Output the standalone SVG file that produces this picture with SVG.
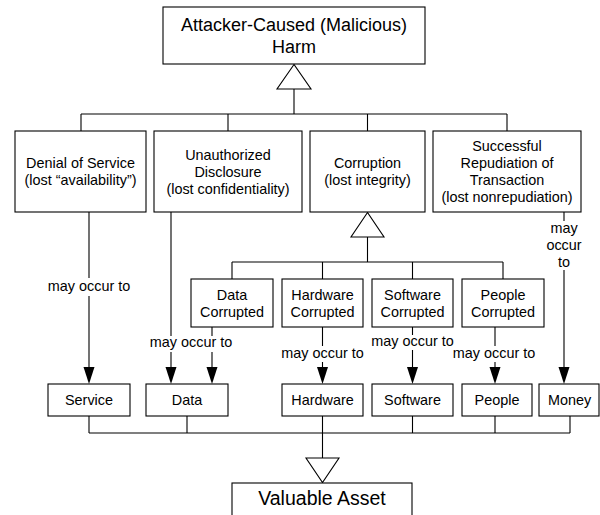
<svg xmlns="http://www.w3.org/2000/svg" width="600" height="515" viewBox="0 0 600 515">
<defs>
<style>
.box{fill:#fff;stroke:#000;stroke-width:1.1}
.ln{fill:none;stroke:#000;stroke-width:1.1}
.tri{fill:#fff;stroke:#000;stroke-width:1.1}
.ah{fill:#000;stroke:none}
.bg{fill:#fff;stroke:none}
text{font-family:"Liberation Sans",Arial,sans-serif;fill:#000;text-anchor:middle}
.t{font-size:14.4px}
.big{font-size:18px}
.huge{font-size:19.5px}
</style>
</defs>
<rect width="600" height="515" fill="#fff"/>
<g id="connectors">
<!-- generalization to top -->
<path class="ln" d="M294 89V114M81 114H507M81 114V131M228 114V131M367.5 114V131M507 114V131"/>
<polygon class="tri" points="294,64.5 277,89 311,89"/>
<!-- generalization to Corruption -->
<path class="ln" d="M367.5 237V262M232 262H503M232 262V279M322.5 262V279M412.5 262V279M503 262V279"/>
<polygon class="tri" points="367.5,212.5 351,237 384,237"/>
<!-- may occur to arrows -->
<path class="ln" d="M89 212V370M171 212V370M212 327V370M322.5 327V370M412.5 327V370M495 327V370M564 212V370"/>
<polygon class="ah" points="83.5,367 94.5,367 89,384"/>
<polygon class="ah" points="165.5,367 176.5,367 171,384"/>
<polygon class="ah" points="206.5,367 217.5,367 212,384"/>
<polygon class="ah" points="317,367 328,367 322.5,384"/>
<polygon class="ah" points="407,367 418,367 412.5,384"/>
<polygon class="ah" points="489.5,367 500.5,367 495,384"/>
<polygon class="ah" points="558.5,367 569.5,367 564,384"/>
<rect class="bg" x="47" y="278" width="84" height="18"/>
<text class="t" x="89" y="291">may occur to</text>
<rect class="bg" x="148" y="336" width="86" height="16"/>
<text class="t" x="191" y="347">may occur to</text>
<rect class="bg" x="280" y="346" width="85" height="16"/>
<text class="t" x="322.5" y="358">may occur to</text>
<rect class="bg" x="370" y="335" width="85" height="15"/>
<text class="t" x="412.5" y="346">may occur to</text>
<rect class="bg" x="452" y="346" width="85" height="16"/>
<text class="t" x="494" y="358">may occur to</text>
<rect class="bg" x="544" y="221" width="40" height="49"/>
<text class="t" x="564" y="233">may</text>
<text class="t" x="564" y="250">occur</text>
<text class="t" x="564" y="267">to</text>
<!-- aggregation to Valuable Asset -->
<path class="ln" d="M89 416V433M187 416V433M322.5 416V458M412.5 416V433M495 416V433M570 416V433M89 433H570"/>
<polygon class="tri" points="306,458 339,458 322.5,482.5"/>
</g>
<g id="harm">
<rect class="box" x="163" y="7" width="262" height="57"/>
<text class="big" x="294" y="31">Attacker-Caused (Malicious)</text>
<text class="big" x="294" y="53">Harm</text>
</g>
<g id="denial">
<rect class="box" x="15" y="131" width="131" height="81"/>
<text class="t" x="80.5" y="168">Denial of Service</text>
<text class="t" x="80.5" y="185">(lost “availability”)</text>
</g>
<g id="disclosure">
<rect class="box" x="154" y="131" width="148" height="81"/>
<text class="t" x="228" y="159.5">Unauthorized</text>
<text class="t" x="228" y="176.5">Disclosure</text>
<text class="t" x="228" y="193.5">(lost confidentiality)</text>
</g>
<g id="corruption">
<rect class="box" x="310" y="131" width="115" height="81"/>
<text class="t" x="367.5" y="168">Corruption</text>
<text class="t" x="367.5" y="185">(lost integrity)</text>
</g>
<g id="repudiation">
<rect class="box" x="433" y="131" width="148" height="81"/>
<text class="t" x="507" y="151">Successful</text>
<text class="t" x="507" y="168">Repudiation of</text>
<text class="t" x="507" y="185">Transaction</text>
<text class="t" x="507" y="202">(lost nonrepudiation)</text>
</g>
<g id="data-corrupted">
<rect class="box" x="191" y="279" width="82" height="48"/>
<text class="t" x="232" y="299.5">Data</text>
<text class="t" x="232" y="316.5">Corrupted</text>
</g>
<g id="hardware-corrupted">
<rect class="box" x="282" y="279" width="81" height="48"/>
<text class="t" x="322.5" y="299.5">Hardware</text>
<text class="t" x="322.5" y="316.5">Corrupted</text>
</g>
<g id="software-corrupted">
<rect class="box" x="372" y="279" width="81" height="48"/>
<text class="t" x="412.5" y="299.5">Software</text>
<text class="t" x="412.5" y="316.5">Corrupted</text>
</g>
<g id="people-corrupted">
<rect class="box" x="462" y="279" width="82" height="48"/>
<text class="t" x="503" y="299.5">People</text>
<text class="t" x="503" y="316.5">Corrupted</text>
</g>
<g id="service">
<rect class="box" x="48" y="384" width="82" height="32"/>
<text class="t" x="89" y="405">Service</text>
</g>
<g id="data">
<rect class="box" x="146" y="384" width="82" height="32"/>
<text class="t" x="187" y="405">Data</text>
</g>
<g id="hardware">
<rect class="box" x="282" y="384" width="81" height="32"/>
<text class="t" x="322.5" y="405">Hardware</text>
</g>
<g id="software">
<rect class="box" x="372" y="384" width="81" height="32"/>
<text class="t" x="412.5" y="405">Software</text>
</g>
<g id="people">
<rect class="box" x="462" y="384" width="70" height="32"/>
<text class="t" x="497" y="405">People</text>
</g>
<g id="money">
<rect class="box" x="539" y="384" width="60" height="32"/>
<text class="t" x="569.5" y="405">Money</text>
</g>
<g id="valuable-asset">
<rect class="box" x="232" y="483" width="180" height="50"/>
<text class="huge" x="322" y="505">Valuable Asset</text>
</g>
</svg>
